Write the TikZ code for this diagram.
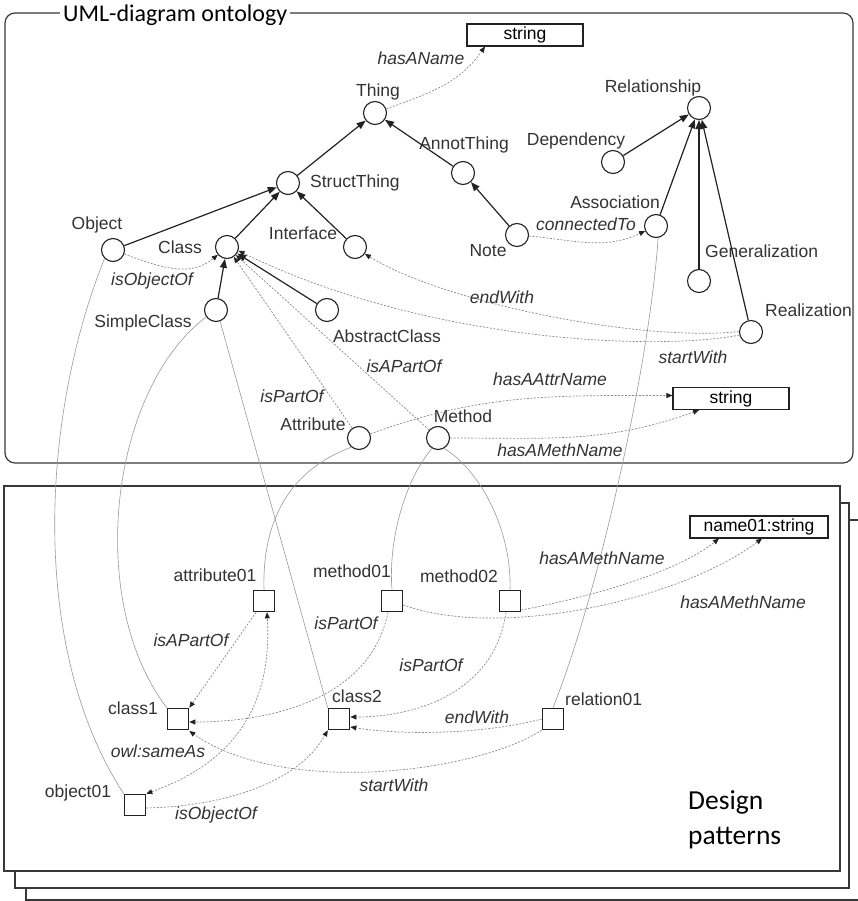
\documentclass[tikz,border=0pt]{standalone}
\usepackage{fontspec}
\setmainfont{Liberation Sans}
\newfontfamily\calfont{Carlito}
\usetikzlibrary{arrows.meta}
\definecolor{txt}{HTML}{333333}
\definecolor{ln}{HTML}{222222}
\definecolor{dsh}{HTML}{8A8A8A}
\definecolor{gry}{HTML}{999999}
\begin{document}
\begin{tikzpicture}[x=1pt,y=1pt,
 lbl/.style={font=\fontsize{17.5}{20}\selectfont, text=txt, inner sep=0},
 rl/.style={font=\fontsize{17.5}{20}\selectfont\itshape, text=txt, inner sep=0},
 cc/.style={circle, draw=ln, line width=1.1pt, minimum size=23pt, inner sep=0, fill=white},
 sq/.style={rectangle, draw=ln, line width=1.1pt, minimum size=21.5pt, inner sep=0, fill=white},
 bx/.style={rectangle, draw=ln, line width=1.1pt, minimum height=22pt, inner sep=0, fill=white, font=\fontsize{17.5}{20}\selectfont},
 isa/.style={draw=ln, line width=1.2pt, -{Triangle[length=9pt,width=7pt]}},
 prop/.style={draw=dsh, line width=0.7pt, dash pattern=on 2pt off 1.5pt, -{Triangle[length=6pt,width=5pt,color=ln]}},
 inst/.style={draw=gry, line width=0.6pt},
 frame/.style={draw=ln!90, line width=1.2pt},
]
\useasboundingbox (0,0) rectangle (857,-901);

% frames
\draw[frame, rounded corners=10pt] (5,-13) rectangle (853,-463);
\node[font=\calfont\fontsize{24}{28}\selectfont, fill=white, inner xsep=3pt, inner ysep=1pt, anchor=base west] (title) at (60,-22) {UML-diagram ontology};
\draw[frame, fill=white] (26,-520) rectangle (870,-900);
\draw[frame, fill=white] (15,-503) rectangle (849,-888);
\draw[frame, fill=white] (4,-486) rectangle (840,-871);
\node[font=\calfont\fontsize{27.5}{35}\selectfont, align=left, anchor=west, inner sep=0] (dp) at (688,-820) {Design\\patterns};

% ontology nodes
\node[cc] (thing) at (375,-113) {};
\node[lbl] (lthing) at (378,-92) {Thing};
\node[cc] (struct) at (288,-183) {};
\node[lbl, anchor=west] (lstruct) at (310,-183) {StructThing};
\node[cc] (annot) at (463,-173) {};
\node[lbl] (lannot) at (464,-145) {AnnotThing};
\node[cc] (rel) at (699,-108) {};
\node[lbl] (lrel) at (653,-88) {Relationship};
\node[cc] (dep) at (613,-162) {};
\node[lbl] (ldep) at (576,-141) {Dependency};
\node[cc] (assoc) at (656,-226) {};
\node[lbl, anchor=east] (lassoc) at (660,-202) {Association};
\node[cc] (note) at (517,-235) {};
\node[lbl] (lnote) at (488,-251) {Note};
\node[cc] (gen) at (699,-281) {};
\node[lbl, anchor=west] (lgen) at (705,-251) {Generalization};
\node[cc] (real) at (751,-332) {};
\node[lbl, anchor=west] (lreal) at (765,-310) {Realization};
\node[cc] (obj) at (113,-250) {};
\node[lbl] (lobj) at (97,-225) {Object};
\node[cc] (cls) at (227,-247) {};
\node[lbl] (lcls) at (180,-247) {Class};
\node[cc] (iface) at (355,-247) {};
\node[lbl] (liface) at (303,-233) {Interface};
\node[cc] (simple) at (216,-310) {};
\node[lbl] (lsimple) at (143,-323) {SimpleClass};
\node[cc] (abst) at (327,-310) {};
\node[lbl] (labst) at (387,-336) {AbstractClass};
\node[cc] (attr) at (359,-438) {};
\node[lbl] (lattr) at (313,-424) {Attribute};
\node[cc] (meth) at (438,-438) {};
\node[lbl] (lmeth) at (463,-416) {Method};
\node[bx, minimum width=116pt] (str1) at (525,-35) {string};
\node[bx, minimum width=116pt] (str2) at (731,-398.5) {string};

% instance nodes
\node[sq] (at01) at (264,-601) {};
\node[lbl] (lat01) at (215,-575) {attribute01};
\node[sq] (m01) at (392,-601) {};
\node[lbl] (lm01) at (352,-571) {method01};
\node[sq] (m02) at (510,-601) {};
\node[lbl] (lm02) at (459,-576) {method02};
\node[sq] (c1) at (178,-719) {};
\node[lbl] (lc1) at (133,-708) {class1};
\node[sq] (c2) at (339,-719) {};
\node[lbl] (lc2) at (357,-696) {class2};
\node[sq] (ob01) at (135,-805) {};
\node[lbl] (lob01) at (78,-793) {object01};
\node[sq] (r01) at (553,-719) {};
\node[lbl, anchor=west] (lr01) at (565,-699) {relation01};
\node[bx, minimum width=138pt] (n01) at (759,-527) {name01:string};

% subclass arrows
\draw[isa] (struct) -- (thing);
\draw[isa] (annot) -- (thing);
\draw[isa] (obj) -- (struct);
\draw[isa] (cls) -- (struct);
\draw[isa] (iface) -- (struct);
\draw[isa] (simple) -- (cls);
\draw[isa] (abst) -- (cls);
\draw[isa] (note) -- (annot);
\draw[isa] (dep) -- (rel);
\draw[isa] (assoc) -- (rel);
\draw[isa] (gen) -- (rel);
\draw[isa] (real) -- (rel);

% ontology properties
\draw[prop] (thing) to[out=20,in=-125] ([xshift=-40]str1.south);
\draw[prop] (obj) to[out=-20,in=220] (cls);
\draw[prop] (note) to[out=-5,in=205] (assoc);
\draw[prop] (real.178) .. controls (640,-342) and (445,-303) .. (iface.-35);
\draw[prop] (real.195) .. controls (650,-352) and (420,-340) .. (cls.-18);
\draw[prop] (attr) -- (cls);
\draw[prop] (meth) -- (cls);
\draw[prop] (attr) to[out=20,in=180] ([yshift=3]str2.west);
\draw[prop] (meth) to[out=0,in=200] ([xshift=-32]str2.south);

% instance-of links
\draw[inst] (obj.225) .. controls (40,-420) and (30,-650) .. (ob01.north west);
\draw[inst] (simple.215) .. controls (110,-390) and (85,-600) .. (c1.north west);
\draw[inst] (simple.-70) -- (c2.north west);
\draw[inst] (attr.230) .. controls (290,-470) and (262,-520) .. (at01.north);
\draw[inst] (meth.240) .. controls (405,-480) and (388,-540) .. (m01.north);
\draw[inst] (meth.-60) .. controls (480,-470) and (512,-530) .. (m02.north);
\draw[inst] (assoc.-80) .. controls (650,-360) and (600,-590) .. (r01.north);

% design pattern properties
\draw[prop] (at01) -- (c1.north east);
\draw[prop, {Triangle[length=6pt,width=5pt,color=ln]}-{Triangle[length=6pt,width=5pt,color=ln]}] (ob01.north east) .. controls (240,-760) and (272,-700) .. ([xshift=3]at01.south);
\draw[prop] ([yshift=-3]ob01.east) .. controls (230,-806) and (300,-780) .. (c2.south west);
\draw[prop] ([xshift=-4]m01.south) .. controls (370,-700) and (270,-722) .. ([yshift=-3]c1.east);
\draw[prop] ([xshift=-4]m02.south) .. controls (495,-690) and (420,-717) .. ([yshift=2]c2.east);
\draw[prop] (r01.west) .. controls (480,-735) and (400,-735) .. ([yshift=-8]c2.east);
\draw[prop] (r01.south west) .. controls (470,-775) and (280,-795) .. ([yshift=-12]c1.east);
\draw[prop] ([yshift=-4]m01.east) .. controls (500,-640) and (680,-600) .. ([xshift=3]n01.south);
\draw[prop] ([yshift=-9]m02.east) .. controls (600,-595) and (680,-570) .. ([xshift=-40]n01.south);

% property labels
\node[rl] (p1) at (421,-58) {hasAName};
\node[rl] (p2) at (152,-281) {isObjectOf};
\node[rl] (p3) at (586,-224) {connectedTo};
\node[rl] (p4) at (502,-297) {endWith};
\node[rl] (p5) at (693,-357) {startWith};
\node[rl] (p6) at (550,-379) {hasAAttrName};
\node[rl] (p7) at (560,-450) {hasAMethName};
\node[rl] (p8) at (404,-366) {isAPartOf};
\node[rl] (p9) at (292,-396) {isPartOf};
\node[rl] (q1) at (191,-640) {isAPartOf};
\node[rl] (q2) at (346,-623) {isPartOf};
\node[rl] (q3) at (431,-665) {isPartOf};
\node[rl] (q4) at (158,-751) {owl:sameAs};
\node[rl] (q5) at (394,-785) {startWith};
\node[rl] (q6) at (216,-815) {isObjectOf};
\node[rl] (q7) at (477,-717) {endWith};
\node[rl] (q8) at (602,-558) {hasAMethName};
\node[rl] (q9) at (743,-602) {hasAMethName};
\end{tikzpicture}
\end{document}
